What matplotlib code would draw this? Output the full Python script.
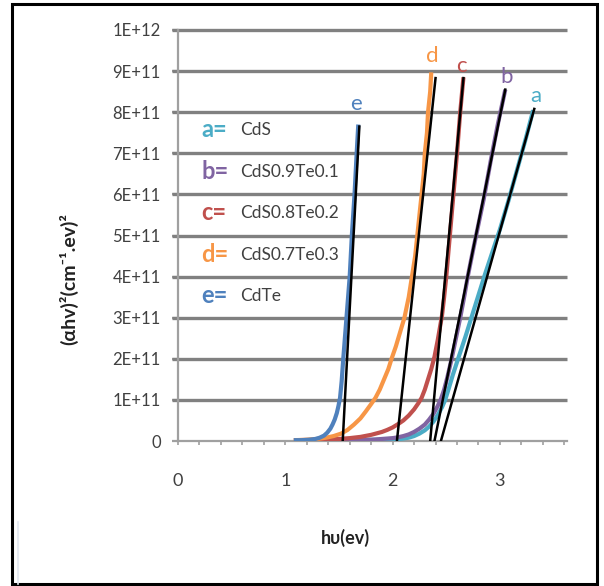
import matplotlib.pyplot as plt
import matplotlib.patches as patches
import numpy as np

plt.rcParams['font.family'] = ['Lato', 'DejaVu Sans']

# photon energy (eV) and (alpha*h*nu)^2 in units of 1E+11
a_x = [1.08, 1.5, 2.0, 2.05, 2.1, 2.15, 2.2, 2.25, 2.3, 2.34, 2.38, 2.42, 2.46, 2.49, 2.52, 2.56, 2.61,
       2.68, 2.74, 2.80, 2.86, 2.93, 3.0, 3.08, 3.16, 3.24, 3.31]
a_y = [0.02, 0.03, 0.03, 0.04, 0.06, 0.08, 0.12, 0.18, 0.26, 0.35, 0.47, 0.63, 0.82, 1.0, 1.25, 1.6, 2.0,
       2.55, 3.05, 3.55, 4.05, 4.6, 5.15, 5.85, 6.6, 7.35, 8.05]
b_x = [1.08, 1.6, 1.8, 1.9, 2.0, 2.05, 2.1, 2.15, 2.2, 2.25, 2.3, 2.34, 2.38, 2.42, 2.45, 2.48, 2.51, 2.55,
       2.59, 2.63, 2.67, 2.70, 2.75, 2.85, 2.92, 2.98, 3.05]
b_y = [0.02, 0.02, 0.03, 0.05, 0.07, 0.09, 0.12, 0.16, 0.22, 0.3, 0.4, 0.52, 0.66, 0.85, 1.02, 1.25, 1.55, 2.0,
       2.5, 3.0, 3.55, 4.0, 4.65, 5.9, 6.9, 7.7, 8.55]
c_x = [1.08, 1.3, 1.5, 1.6, 1.7, 1.8, 1.9, 1.95, 2.0, 2.05, 2.1, 2.15, 2.2, 2.24, 2.27, 2.30, 2.33, 2.36,
       2.39, 2.42, 2.44, 2.46, 2.48, 2.50, 2.52, 2.56, 2.60, 2.63, 2.66]
c_y = [0.02, 0.03, 0.05, 0.07, 0.1, 0.15, 0.22, 0.27, 0.33, 0.41, 0.5, 0.62, 0.77, 0.92, 1.05, 1.25, 1.5, 1.75,
       2.05, 2.45, 2.75, 3.05, 3.5, 4.0, 4.6, 5.8, 7.0, 8.0, 8.85]
d_x = [1.08, 1.2, 1.3, 1.38, 1.45, 1.52, 1.58, 1.64, 1.70, 1.75, 1.80, 1.84, 1.88, 1.92, 1.96, 1.99, 2.03,
       2.07, 2.11, 2.15, 2.18, 2.21, 2.23, 2.25, 2.27, 2.29, 2.30, 2.32, 2.33, 2.35, 2.36]
d_y = [0.02, 0.03, 0.05, 0.08, 0.12, 0.18, 0.27, 0.4, 0.55, 0.72, 0.9, 1.05, 1.25, 1.5, 1.75, 2.0, 2.3,
       2.65, 3.0, 3.5, 4.0, 4.5, 5.0, 5.5, 6.0, 6.5, 7.0, 7.5, 8.0, 8.5, 8.97]
e_x = [1.08, 1.15, 1.22, 1.28, 1.32, 1.36, 1.39, 1.42, 1.44, 1.46, 1.48, 1.495, 1.51, 1.525, 1.54, 1.555,
       1.57, 1.60, 1.62, 1.645, 1.665, 1.68]
e_y = [0.02, 0.02, 0.03, 0.05, 0.08, 0.13, 0.2, 0.3, 0.4, 0.52, 0.68, 0.85, 1.05, 1.45, 2.0, 2.5,
       3.0, 4.0, 5.0, 6.0, 7.0, 7.7]

# linear fits: (x at zero, x at top, y at top)
fit_a = [2.45, 3.32, 8.08]
fit_b = [2.39, 3.05, 8.55]
fit_c = [2.35, 2.66, 8.83]
fit_d = [2.04, 2.40, 8.83]
fit_e = [1.535, 1.69, 7.65]

letters = ['a', 'b', 'c', 'd', 'e']
names = ['CdS', 'CdS0.9Te0.1', 'CdS0.8Te0.2', 'CdS0.7Te0.3', 'CdTe']
colors = ['#4bacc6', '#8064a2', '#c0504d', '#f79646', '#4f81bd']
letter_pos = [(3.33, 8.4), (3.06, 8.85), (2.64, 9.12), (2.37, 9.36), (1.66, 8.2)]
legend_y = [7.57, 6.55, 5.55, 4.53, 3.53]

yticks = np.arange(0, 11) * 1e11
ytick_labels = ['0', '1E+11', '2E+11', '3E+11', '4E+11', '5E+11', '6E+11', '7E+11', '8E+11', '9E+11', '1E+12']

xmax = 3.625

fig = plt.figure(figsize=(6.04, 5.86), dpi=100)
ax = fig.add_axes([178 / 604, 145 / 586, 389 / 604, 411 / 586])
ax.set_xlim(0, xmax)
ax.set_ylim(0, 1e12)

# horizontal grid, running a little past the y axis like the tick marks
for yv in yticks[1:]:
    ax.plot([-0.055, xmax], [yv, yv], color='#808080', lw=2.4, zorder=2, clip_on=False, solid_capstyle='butt')

curves = [(a_x, a_y), (b_x, b_y), (c_x, c_y), (d_x, d_y), (e_x, e_y)]
fits = [fit_a, fit_b, fit_c, fit_d, fit_e]

for (xs, ys), col in zip(curves, colors):
    ax.plot(xs, np.array(ys) * 1e11, color=col, lw=3.0, solid_capstyle='butt', solid_joinstyle='round', zorder=3)

for f in fits:
    ax.plot([f[0], f[1]], [0, f[2] * 1e11], color='black', lw=1.8, zorder=4)

# curve letters next to each line
for lt, (lx, ly), col in zip(letters, letter_pos, colors):
    ax.text(lx, ly * 1e11, lt, color=col, fontsize=16, ha='center', va='center', zorder=5)

# key on the left
for lt, nm, ly, col in zip(letters, names, legend_y, colors):
    ax.text(0.22, ly * 1e11, lt + '=', color=col, fontsize=17, fontweight='bold', va='center', zorder=5)
    ax.text(0.58, ly * 1e11, nm, color='#404040', fontsize=12.5, va='center', zorder=5)

ax.set_yticks(yticks)
ax.set_yticklabels(ytick_labels)
ax.set_xticks([0, 1, 2, 3])
ax.set_xticklabels(['0', '1', '2', '3'])
ax.set_xticks(np.arange(0, 3.61, 0.2), minor=True)
ax.set_xlim(0, xmax)
ax.set_ylim(0, 1e12)

for s in ['top', 'right']:
    ax.spines[s].set_visible(False)
for s in ['left', 'bottom']:
    ax.spines[s].set_color('#a0a0a0')
    ax.spines[s].set_linewidth(1.6)

ax.tick_params(axis='y', length=4.5, width=1.6, color='#a0a0a0', pad=8, labelsize=12, labelcolor='#404040')
ax.tick_params(axis='x', which='both', length=3, width=1.2, color='#a0a0a0', pad=20, labelsize=13, labelcolor='#404040')

ax.set_ylabel('(αhv)²(cm⁻¹.ev)²', fontsize=14, fontweight='bold', color='#222222')
ax.yaxis.set_label_coords(-0.257, 0.394)
ax.set_xlabel('hυ(ev)', fontsize=13, fontweight='bold', color='#222222')
ax.xaxis.set_label_coords(0.43, -0.215)

# outer frame
fig.patches.append(patches.Rectangle((12 / 604, 2 / 586), 585 / 604, 580 / 586, transform=fig.transFigure,
                                     fill=False, edgecolor='black', lw=2.2))
fig.add_artist(plt.Line2D([18 / 604, 18 / 604], [2 / 586, 64 / 586], color='#e3e8f0', lw=1.2))

fig.savefig('out.png', dpi=100)
